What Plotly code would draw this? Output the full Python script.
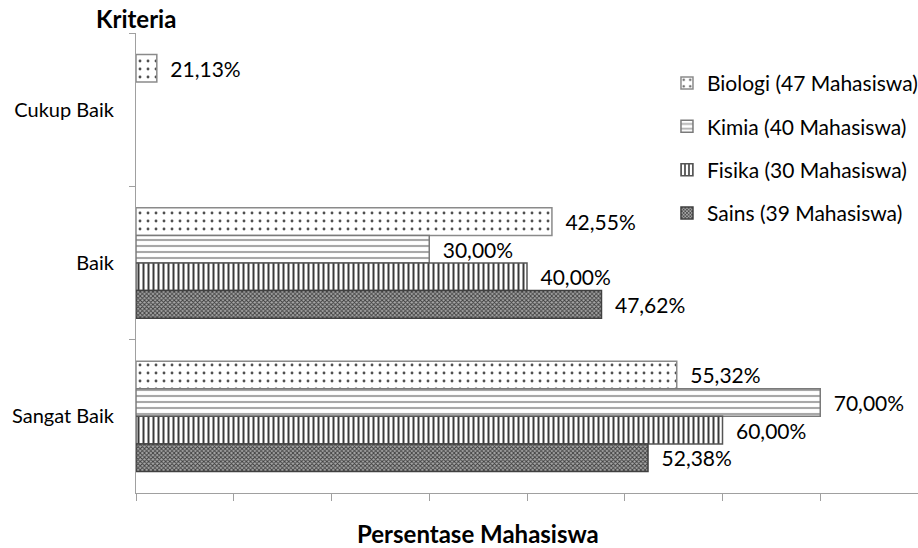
import plotly.graph_objects as go

categories = ["Cukup Baik", "Baik", "Sangat Baik"]
series_names = ["Biologi (47 Mahasiswa)", "Kimia (40 Mahasiswa)",
                "Fisika (30 Mahasiswa)", "Sains (39 Mahasiswa)"]
biologi = [2.13, 42.55, 55.32]
kimia = [None, 30.00, 70.00]
fisika = [None, 40.00, 60.00]
sains = [None, 47.62, 52.38]
biologi_labels = ["21,13%", "42,55%", "55,32%"]
kimia_labels = [None, "30,00%", "70,00%"]
fisika_labels = [None, "40,00%", "60,00%"]
sains_labels = [None, "47,62%", "52,38%"]
x_ticks = [0, 10, 20, 30, 40, 50, 60, 70, 80]

FONT = "Lato, Open Sans, sans-serif"

styles = [
    dict(bg="white", fg="#505050", shape=".", size=8, solidity=0.1, line="#8a8a8a"),
    dict(bg="white", fg="#a8a8a8", shape="-", size=6, solidity=0.35, line="#7a7a7a"),
    dict(bg="white", fg="#3a3a3a", shape="|", size=5, solidity=0.4, line="#555555"),
    dict(bg="#a8a8a8", fg="#3c3c3c", shape="x", size=3, solidity=0.5, line="#404040"),
]
values = [biologi, kimia, fisika, sains]
labels = [biologi_labels, kimia_labels, fisika_labels, sains_labels]

fig = go.Figure()
for i, (name, vals, labs, st) in enumerate(zip(series_names, values, labels, styles)):
    fig.add_trace(go.Bar(
        y=categories, x=vals, orientation="h", name=name,
        text=[("\u2002" + t) if t else None for t in labs],
        textposition="outside", cliponaxis=False,
        textfont=dict(family=FONT, size=21, color="black"),
        marker=dict(color=st["bg"],
                    line=dict(color=st["line"], width=1.5),
                    pattern=dict(shape=st["shape"], fgcolor=st["fg"], bgcolor=st["bg"],
                                 size=st["size"], solidity=st["solidity"], fillmode="replace")),
        legendgroup=f"g{i}",
    ))

fig.update_layout(
    width=918, height=548,
    margin=dict(l=136, r=0, t=33, b=55, autoexpand=False),
    paper_bgcolor="white", plot_bgcolor="white",
    barmode="group", bargap=0.28, bargroupgap=0,
    font=dict(family=FONT, size=20, color="black"),
    showlegend=True,
    legend=dict(x=0.679, y=0.935, xanchor="left", yanchor="top",
                font=dict(family=FONT, size=21, color="black"),
                traceorder="grouped", tracegroupgap=13,
                bgcolor="rgba(0,0,0,0)", itemwidth=30),
    xaxis=dict(range=[0, 80], tickvals=x_ticks, showticklabels=False,
               ticks="outside", ticklen=7, tickcolor="#a0a0a0",
               showline=True, linecolor="#a0a0a0", linewidth=1,
               showgrid=False, zeroline=False, automargin=False),
    yaxis=dict(categoryorder="array", categoryarray=categories, autorange="reversed",
               ticks="outside", ticklen=6, tickcolor="#a0a0a0", tickson="boundaries",
               showline=True, linecolor="#a0a0a0", linewidth=1,
               showgrid=False, zeroline=False, ticklabelstandoff=17, automargin=False,
               tickfont=dict(family=FONT, size=20, color="black")),
)
fig.add_annotation(text="<b>Kriteria</b>", xref="x", x=0, yref="paper", y=1.0,
                   yanchor="bottom", xanchor="center", yshift=-2, showarrow=False,
                   font=dict(family=FONT, size=24, color="black"))
fig.add_annotation(text="<b>Persentase Mahasiswa</b>", xref="paper", x=0.437, yref="paper", y=0,
                   yanchor="top", xanchor="center", yshift=-24, showarrow=False,
                   font=dict(family=FONT, size=24, color="black"))

fig.write_html("out.html", config={"displayModeBar": False},
               post_script="document.body.style.margin='0';document.body.style.overflow='hidden';")
